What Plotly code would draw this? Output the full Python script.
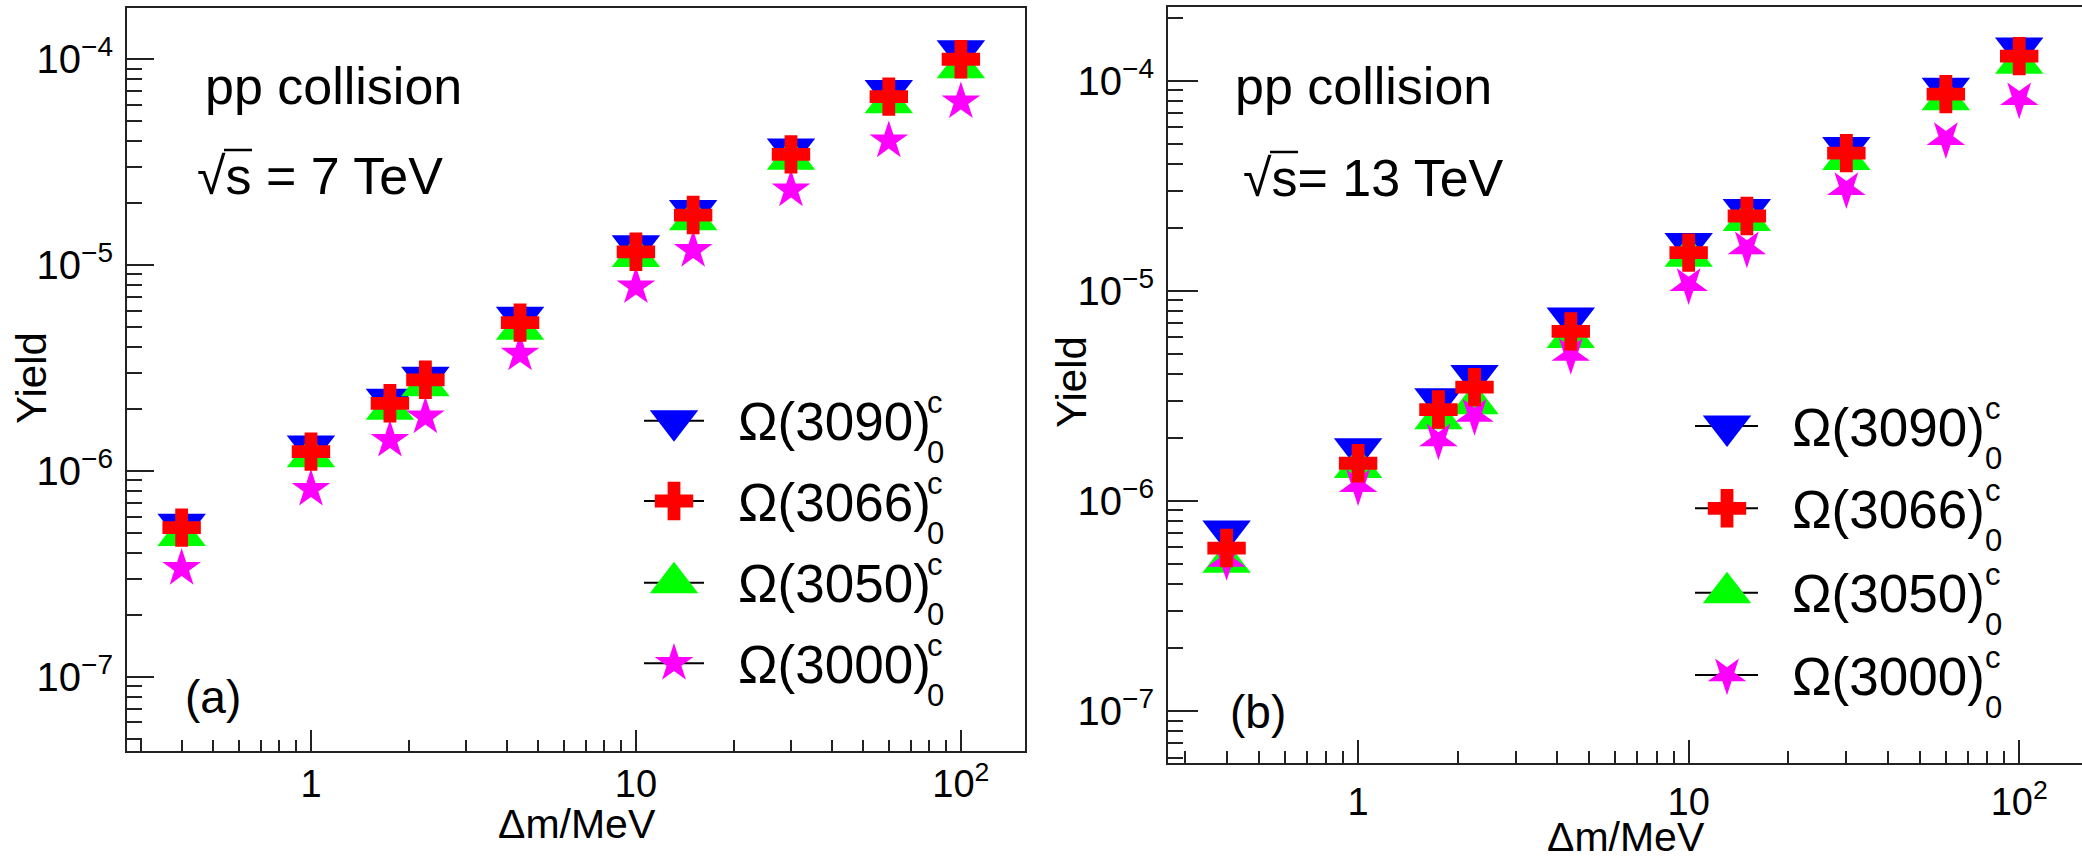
import math
import plotly.graph_objects as go

# ---------------- data ----------------
dm = [0.4, 1, 1.75, 2.25, 4.4, 10, 15, 30, 60, 100]

labels = ["Ω(3090)", "Ω(3066)", "Ω(3050)", "Ω(3000)"]

# pp, sqrt(s) = 7 TeV
y7_3090 = [5.5e-7, 1.32e-6, 2.23e-6, 2.85e-6, 5.57e-6, 1.24e-5, 1.84e-5, 3.66e-5, 7.04e-5, 1.10e-4]
y7_3066 = [5.3e-7, 1.24e-6, 2.13e-6, 2.77e-6, 5.25e-6, 1.16e-5, 1.75e-5, 3.45e-5, 6.58e-5, 1.00e-4]
y7_3050 = [4.86e-7, 1.17e-6, 1.99e-6, 2.59e-6, 4.88e-6, 1.10e-5, 1.66e-5, 3.27e-5, 6.15e-5, 9.1e-5]
y7_3000 = [3.36e-7, 8.15e-7, 1.41e-6, 1.83e-6, 3.7e-6, 7.85e-6, 1.18e-5, 2.32e-5, 4.02e-5, 6.22e-5]

# pp, sqrt(s) = 13 TeV
y13_3090 = [7.18e-7, 1.77e-6, 3.06e-6, 3.95e-6, 7.43e-6, 1.68e-5, 2.44e-5, 4.81e-5, 9.2e-5, 1.43e-4]
y13_3066 = [5.96e-7, 1.51e-6, 2.72e-6, 3.48e-6, 6.41e-6, 1.52e-5, 2.27e-5, 4.52e-5, 8.63e-5, 1.31e-4]
y13_3050 = [5.1e-7, 1.44e-6, 2.46e-6, 2.9e-6, 6.0e-6, 1.46e-5, 2.16e-5, 4.22e-5, 8.12e-5, 1.21e-4]
y13_3000 = [5.2e-7, 1.18e-6, 1.95e-6, 2.55e-6, 4.97e-6, 1.07e-5, 1.60e-5, 3.06e-5, 5.30e-5, 8.2e-5]

x_tickvals = [1, 10, 100]
x_ticktext = ["1", "10", "10<sup>2</sup>"]
y_tickvals = [1e-7, 1e-6, 1e-5, 1e-4]
y_ticktext = ["10<sup>−7</sup>", "10<sup>−6</sup>", "10<sup>−5</sup>", "10<sup>−4</sup>"]

# ---------------- styles ----------------
W, H = 2082, 859
FONT = "Liberation Sans, Arial, Helvetica, sans-serif"
AX = "#222222"
colors = ["#0000ff", "#ff0000", "#00ff00", "#ff00ff"]
symbols = ["triangle-down", "cross", "triangle-up", "star"]
sizes = [42, 32, 42, 29]
draw_order = [0, 2, 3, 1]  # blue, green, magenta, red on top

x_minor = [v * 10 ** e for e in (-1, 0, 1) for v in range(2, 10)]
y_minor = [v * 10.0 ** e for e in (-8, -7, -6, -5, -4) for v in range(2, 10)]

fig = go.Figure()

panels = [
    dict(series=[y7_3090, y7_3066, y7_3050, y7_3000], xa="x", ya="y", star_angle=0),
    dict(series=[y13_3090, y13_3066, y13_3050, y13_3000], xa="x2", ya="y2", star_angle=180),
]
for p in panels:
    for i in draw_order:
        fig.add_trace(go.Scatter(
            x=dm, y=p["series"][i], mode="markers", xaxis=p["xa"], yaxis=p["ya"],
            showlegend=False, name=labels[i],
            marker=dict(symbol=symbols[i], size=sizes[i], color=colors[i],
                        line=dict(width=0),
                        angle=p["star_angle"] if symbols[i] == "star" else 0),
        ))


def axis_common(**kw):
    d = dict(type="log", showline=True, linecolor=AX, linewidth=2, ticks="inside",
             tickcolor=AX, tickwidth=2, showgrid=False, zeroline=False,
             tickfont=dict(family=FONT, size=40, color="black"))
    d.update(kw)
    return d


layout = dict(
    width=W, height=H, margin=dict(l=0, r=0, t=0, b=0),
    paper_bgcolor="white", plot_bgcolor="rgba(0,0,0,0)", showlegend=False,
    xaxis=axis_common(domain=[127 / W, 1025 / W], range=[math.log10(0.2716), math.log10(157.5)],
                      anchor="y", mirror=True, ticklen=21, tickvals=x_tickvals, ticktext=x_ticktext,
                      tickfont=dict(family=FONT, size=38, color="black"), ticklabelstandoff=-2,
                      minor=dict(ticks="inside", ticklen=11, tickwidth=2, tickcolor=AX, tickvals=x_minor)),
    yaxis=axis_common(domain=[1 - 751 / H, 1 - 8 / H], range=[-7.361, -3.751], anchor="x",
                      mirror=True, ticklen=27, tickvals=y_tickvals, ticktext=y_ticktext,
                      ticklabelstandoff=4,
                      minor=dict(ticks="inside", ticklen=15, tickwidth=2, tickcolor=AX, tickvals=y_minor)),
    xaxis2=axis_common(domain=[1168 / W, 1.0], range=[math.log10(0.266), 2.19],
                       anchor="y2", mirror=True, ticklen=23, tickvals=x_tickvals, ticktext=x_ticktext,
                       tickfont=dict(family=FONT, size=38, color="black"), ticklabelstandoff=4,
                       minor=dict(ticks="inside", ticklen=12, tickwidth=2, tickcolor=AX, tickvals=x_minor)),
    yaxis2=axis_common(domain=[1 - 763 / H, 1 - 7 / H], range=[-7.248, -3.649], anchor="x2",
                       mirror=False, ticklen=30, tickvals=y_tickvals, ticktext=y_ticktext,
                       ticklabelstandoff=4,
                       minor=dict(ticks="inside", ticklen=15, tickwidth=2, tickcolor=AX, tickvals=y_minor)),
    # pixel-coordinate overlay used for text and legend placement
    xaxis3=dict(domain=[0, 1], range=[0, W], visible=False, anchor="y3", fixedrange=True),
    yaxis3=dict(domain=[0, 1], range=[H, 0], visible=False, anchor="x3", fixedrange=True),
)
fig.update_layout(**layout)


def text(x, y, s, size, xanchor="left", angle=0):
    fig.add_annotation(x=x, y=y, xref="x3", yref="y3", text=s, showarrow=False,
                       xanchor=xanchor, yanchor="middle", textangle=angle,
                       font=dict(family=FONT, size=size, color="black"))


def hline(x0, x1, y, width=2):
    fig.add_shape(type="line", xref="x3", yref="y3", x0=x0, x1=x1, y0=y, y1=y,
                  line=dict(color="black", width=width), layer="below")


# panel texts
text(203, 86, "pp collision", 52)
text(195, 176, "√s = 7 TeV", 52)
hline(224, 252, 150, 2.5)
text(183, 697, "(a)", 46)
text(1233, 86, "pp collision", 52)
text(1241, 178, "√s= 13 TeV", 52)
hline(1270, 1298, 152, 2.5)
text(1228, 712, "(b)", 46)

# axis titles
text(577, 824, "Δm/MeV", 41, xanchor="center")
text(1626, 837, "Δm/MeV", 41, xanchor="center")
text(31, 378, "Yield", 42, xanchor="center", angle=-90)
text(1071, 382, "Yield", 42, xanchor="center", angle=-90)

# legends
legends = [
    dict(line=(644, 704), mx=674, tx=736, sx=925, rows=[420.7, 501, 582.7, 663.3], star_angle=0),
    dict(line=(1695, 1758), mx=1727, tx=1790, sx=1983, rows=[426, 508.3, 592.7, 675], star_angle=180),
]
for lg in legends:
    for i in range(4):
        ry = lg["rows"][i]
        hline(lg["line"][0], lg["line"][1], ry, 2)
        fig.add_trace(go.Scatter(
            x=[lg["mx"]], y=[ry], mode="markers", xaxis="x3", yaxis="y3", showlegend=False,
            marker=dict(symbol=symbols[i], size=sizes[i], color=colors[i], line=dict(width=0),
                        angle=lg["star_angle"] if symbols[i] == "star" else 0)))
        text(lg["tx"], ry + 1, labels[i], 53)
        text(lg["sx"], ry - 18, "c", 31)
        text(lg["sx"], ry + 32, "0", 31)

fig.write_html("out.html", config={"displayModeBar": False},
               post_script="document.body.style.margin='0';")
